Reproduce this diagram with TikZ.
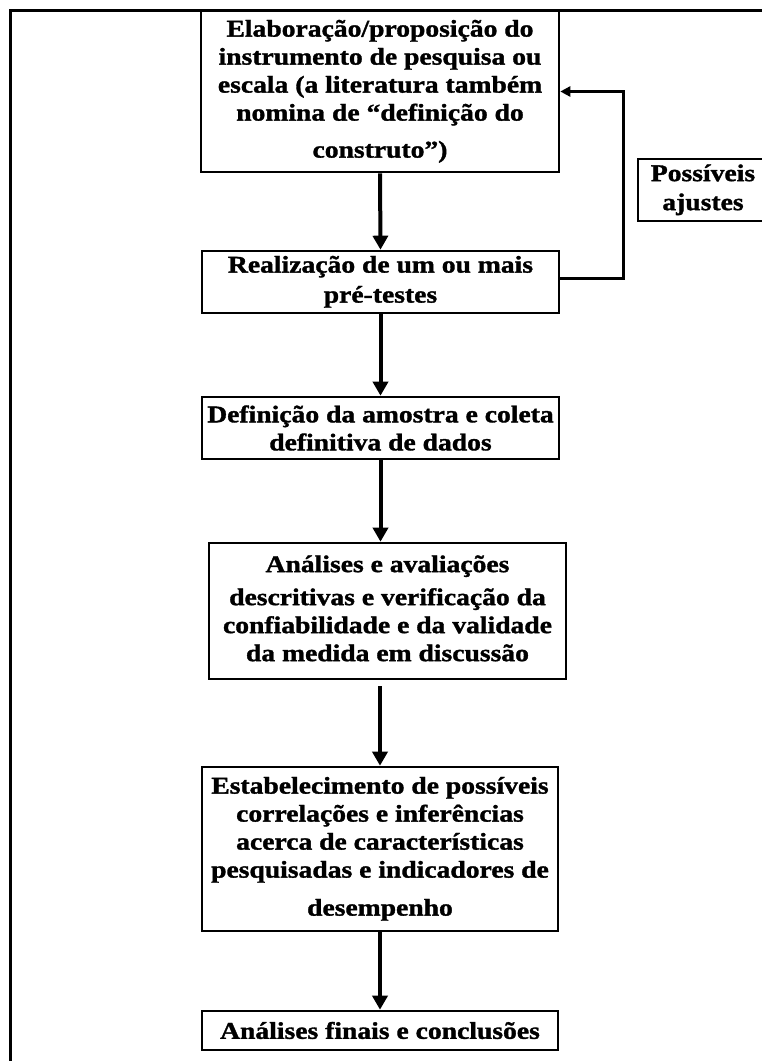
\documentclass[tikz,border=0pt]{standalone}
\usepackage{fontspec}
\setmainfont{Liberation Serif}[FakeStretch=1.15,BoldFeatures={FakeBold=1.4}]
\usetikzlibrary{arrows.meta,calc}
\begin{document}
\begin{tikzpicture}[x=1pt,y=-1pt,
  stepbox/.style={draw,line width=2.6pt,inner sep=0pt,align=center,
    font=\fontsize{24}{28}\selectfont\bfseries},
  flow/.style={line width=4pt,-{Triangle[width=15pt,length=14pt]}},
  feedback/.style={line width=3pt,-{Triangle[width=10pt,length=10pt]}}]
\useasboundingbox (0,0) rectangle (761,1061);
% page frame: only the top and left rules show
\draw[line width=3pt] (10,1080) -- (10,10) -- (780,10);

\node[stepbox,minimum width=358,minimum height=161] (b1) at (380,91.5)
  {\raisebox{-3pt}{\begin{tabular}{@{}c@{}}Elaboração/proposição do\\instrumento de pesquisa ou\\escala (a literatura também\\nomina de “definição do\\[9pt]construto”)\end{tabular}}};
\node[stepbox,minimum width=357,minimum height=62] (b2) at (380.5,282)
  {\raisebox{-4pt}{\begin{tabular}{@{}c@{}}Realização de um ou mais\\[2pt]pré-testes\end{tabular}}};
\node[stepbox,minimum width=357,minimum height=62] (b3) at (380.5,428)
  {Definição da amostra e coleta\\definitiva de dados};
\node[stepbox,minimum width=357,minimum height=136] (b4) at (387.5,611)
  {\raisebox{2pt}{\begin{tabular}{@{}c@{}}Análises e avaliações\\[5pt]descritivas e verificação da\\confiabilidade e da validade\\da medida em discussão\end{tabular}}};
\node[stepbox,minimum width=356,minimum height=164] (b5) at (380,849)
  {\raisebox{-2pt}{\begin{tabular}{@{}c@{}}Estabelecimento de possíveis\\correlações e inferências\\acerca de características\\pesquisadas e indicadores de\\[10pt]desempenho\end{tabular}}};
\node[stepbox,minimum width=356,minimum height=39] (b6) at (380,1030.5)
  {Análises finais e conclusões};
\node[stepbox,minimum width=130,minimum height=62] (adj) at (703,190)
  {\raisebox{-10pt}{\begin{tabular}{@{}c@{}}Possíveis\\[1pt]ajustes\end{tabular}}};

% main sequence
\draw[flow] (b1.south) -- (b2.north);
\draw[flow] (b2.south) -- (b3.north);
\draw[flow] (b3.south) -- (b4.north -| b3.south);
\draw[flow,shorten <=6pt] (b4.south -| b5.north) -- (b5.north);
\draw[flow] (b5.south) -- (b6.north);

% return loop for adjustments
\coordinate (loop) at (623,0);
\draw[feedback] ([yshift=4pt]b2.east) -| (loop |- b1.east) -- (b1.east);
\end{tikzpicture}
\end{document}
